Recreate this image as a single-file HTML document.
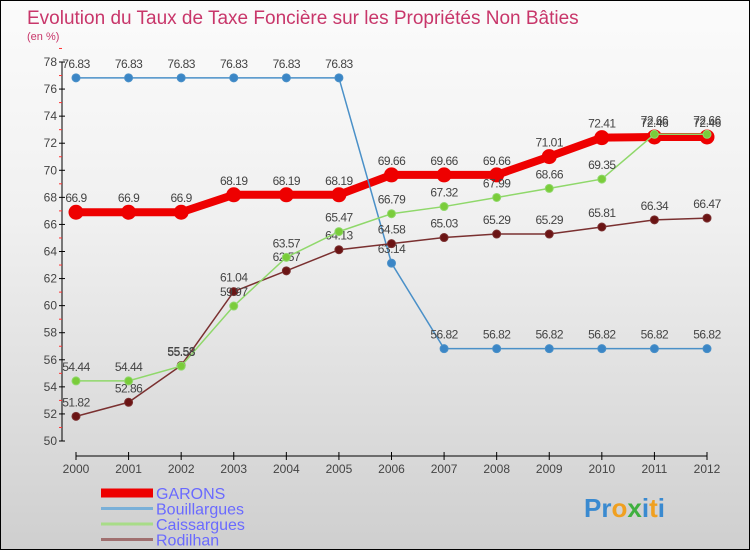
<!DOCTYPE html>
<html><head><meta charset="utf-8"><style>
body{margin:0}
#c{width:750px;height:550px;position:relative;box-sizing:border-box;border:1px solid #000;background:linear-gradient(#fbfbfb,#f0f0f0 40%,#cfcfcf);font-family:"Liberation Sans",sans-serif;overflow:hidden}
text{font-family:"Liberation Sans",sans-serif}
</style></head><body>
<div id="c">
<svg id="s" width="750" height="550">
<text x="26" y="23" font-size="19" fill="#c8366a">Evolution du Taux de Taxe Foncière sur les Propriétés Non Bâties</text>
<text x="26" y="39" font-size="11" fill="#c8366a">(en %)</text>
</svg>
</div>
<script>
const years=[2000,2001,2002,2003,2004,2005,2006,2007,2008,2009,2010,2011,2012];
const yTicks=[50,52,54,56,58,60,62,64,66,68,70,72,74,76,78];
const garons=[66.9,66.9,66.9,68.19,68.19,68.19,69.66,69.66,69.66,71.01,72.41,72.46,72.46];
const bouillargues=[76.83,76.83,76.83,76.83,76.83,76.83,63.14,56.82,56.82,56.82,56.82,56.82,56.82];
const caissargues=[54.44,54.44,55.53,59.97,63.57,65.47,66.79,67.32,67.99,68.66,69.35,72.66,72.66];
const rodilhan=[51.82,52.86,55.58,61.04,62.57,64.13,64.58,65.03,65.29,65.29,65.81,66.34,66.47];
const seriesNames=["GARONS","Bouillargues","Caissargues","Rodilhan"];
const NS="http://www.w3.org/2000/svg",s=document.getElementById('s');
const x=i=>75+i*(706-75)/(years.length-1);
const y=v=>440-(v-50)*(440-61)/28;
function el(t,a,p){const e=document.createElementNS(NS,t);for(const k in a)e.setAttribute(k,a[k]);(p||s).appendChild(e);return e;}
// axes
const ax=el('g',{});


el('line',{x1:61,y1:61,x2:61,y2:440,stroke:'#000'},ax);
el('line',{x1:75,y1:455,x2:706,y2:455,stroke:'#000'},ax);
yTicks.forEach(v=>{
 el('line',{x1:58,y1:y(v),x2:64,y2:y(v),stroke:'#000'},ax);
 el('line',{x1:58,y1:y(v+1),x2:61,y2:y(v+1),stroke:'#f33'},ax);
 const t=el('text',{x:56,y:y(v)+4,'text-anchor':'end','font-size':12,fill:'#444'},ax);t.textContent=v;
 
 
});
years.forEach((yr,i)=>{
 el('line',{x1:x(i),y1:451,x2:x(i),y2:459,stroke:'#000'},ax);
 const t=el('text',{x:x(i),y:466+6,'text-anchor':'middle','font-size':12,fill:'#444'},ax);t.textContent=yr;
 
 
});
function series(d,color,w,r,fill,name){
 const g=el('g',{});
 
 
 el('polyline',{points:d.map((v,i)=>x(i)+','+y(v)).join(' '),fill:'none',stroke:color,'stroke-width':w},g);
 d.forEach((v,i)=>{
  const c=el('circle',{cx:x(i),cy:y(v),r:r,fill:fill,stroke:color,'stroke-width':1},g);
  
  
  const t=el('text',{x:x(i),y:y(v)-10,'text-anchor':'middle','font-size':12,fill:'#444','letter-spacing':'-0.5'},g);t.textContent=v;
  
  
 });
}
series(garons,'#e00',8,7,'#e00','garons-series');
series(bouillargues,'#4a90c8',1.5,4,'#3b86c6','bouillargues-series');
series(rodilhan,'#7a3030',1.5,4,'#6b1414','rodilhan-series');
series(caissargues,'#8fd86a',1.5,4,'#7acc3a','caissargues-series');
// legend
const cols=['#e00','#7ab0d8','#a8dc88','#a07070'],ws=[9,3,3,3];
seriesNames.forEach((n,i)=>{
 const yy=492+i*15.5;
 const l=el('line',{x1:100,y1:yy,x2:152,y2:yy,stroke:cols[i],'stroke-width':ws[i]});
 
 
 const t=el('text',{x:155,y:yy+6,'font-size':16,fill:'#6a6aff'});t.textContent=n;
 
 
});
const lg=el('text',{x:583,y:516,'font-size':26,'font-weight':'bold',fill:'#3a8ad0'});


lg.innerHTML='Pr<tspan fill="#f0a020">o</tspan><tspan fill="#40b040">x</tspan>i<tspan fill="#f0a020">t</tspan>i';
</script>
</body></html>
